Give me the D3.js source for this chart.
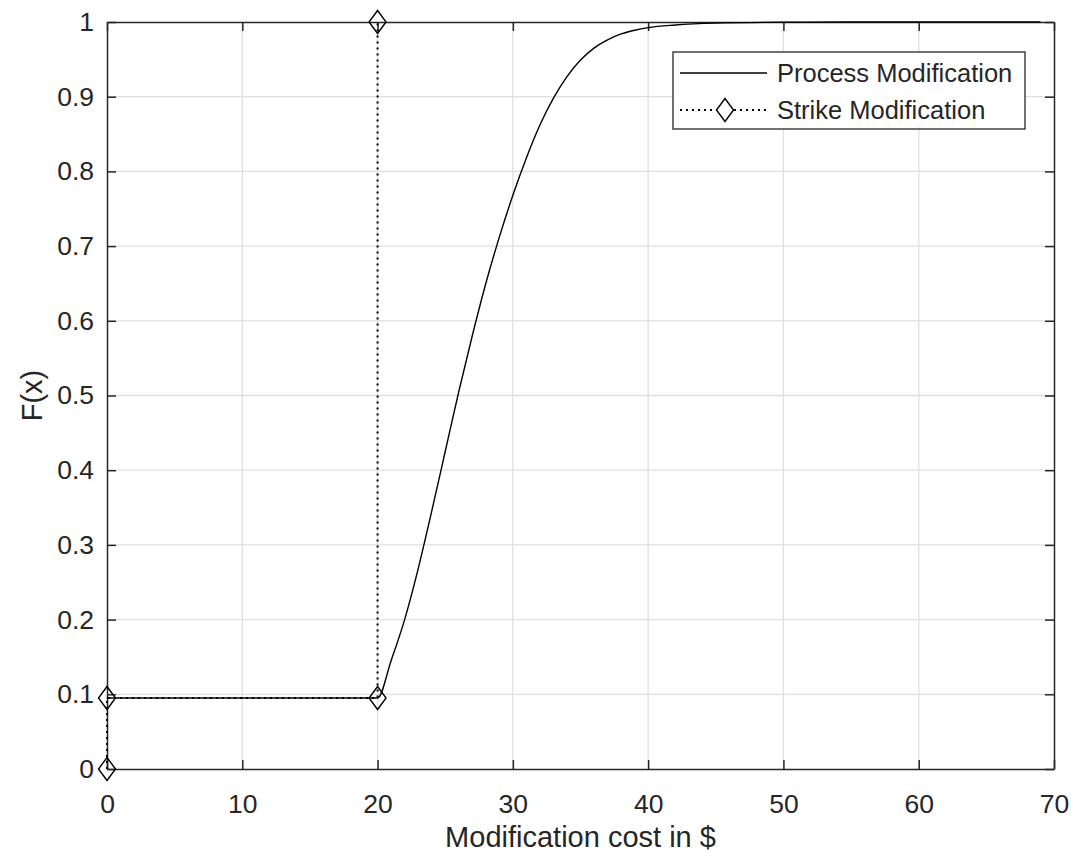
<!DOCTYPE html>
<html>
<head>
<meta charset="utf-8">
<script src="https://cdn.jsdelivr.net/npm/d3@7"></script>
<style>
  body { margin: 0; background: #fff; }
  svg text { font-family: "Liberation Sans", Arial, sans-serif; fill: #262626; }
</style>
</head>
<body>
<div id="chart"></div>
<script>
// process modification CDF
const processX = [0, 20, 21, 22, 23, 24, 25, 26, 27, 28, 29, 30, 31, 32, 33, 34, 35, 36, 37, 38, 39, 40, 42, 45, 50, 55, 69];
const processY = [0.095, 0.095, 0.145, 0.2, 0.268, 0.345, 0.425, 0.505, 0.58, 0.65, 0.712, 0.768, 0.818, 0.862, 0.898, 0.927, 0.949, 0.965, 0.976, 0.984, 0.989, 0.9925, 0.996, 0.9985, 0.9997, 1, 1];

// strike modification step
const strikeX = [0, 0, 20, 20];
const strikeY = [0, 0.095, 0.095, 1];

const xTicks = [0, 10, 20, 30, 40, 50, 60, 70];
const yTicks = [0, 0.1, 0.2, 0.3, 0.4, 0.5, 0.6, 0.7, 0.8, 0.9, 1];
const seriesNames = ["Process Modification", "Strike Modification"];

const W = 1075, H = 859;
const margin = {top: 22, right: 21, bottom: 90, left: 107};
const width = W - margin.left - margin.right;
const height = H - margin.top - margin.bottom;

const svg = d3.select("#chart").append("svg")
    .attr("width", W)
    .attr("height", H);

const g = svg.append("g")
    .attr("transform", `translate(${margin.left},${margin.top})`);

const x = d3.scaleLinear().domain([0, 70]).range([0, width]);
const y = d3.scaleLinear().domain([0, 1]).range([height, 0]);

// grid
g.append("g").selectAll("line").data(xTicks.slice(1, -1)).enter().append("line")
    .attr("x1", d => x(d)).attr("x2", d => x(d))
    .attr("y1", 0).attr("y2", height)
    .attr("stroke", "#dfdfdf").attr("stroke-width", 1.3);
g.append("g").selectAll("line").data(yTicks.slice(1, -1)).enter().append("line")
    .attr("y1", d => y(d)).attr("y2", d => y(d))
    .attr("x1", 0).attr("x2", width)
    .attr("stroke", "#dfdfdf").attr("stroke-width", 1.3);

// axes, ticks pointing inward
const tickLen = 9;
g.append("g")
    .attr("transform", `translate(0,${height})`)
    .call(d3.axisBottom(x).tickValues(xTicks).tickSizeInner(-tickLen).tickSizeOuter(0).tickPadding(25));
g.append("g")
    .call(d3.axisLeft(y).tickValues(yTicks).tickFormat(d3.format("~g")).tickSizeInner(-tickLen).tickSizeOuter(0).tickPadding(13));
g.append("g")
    .call(d3.axisTop(x).tickValues(xTicks).tickSizeInner(-tickLen).tickSizeOuter(0).tickFormat(""));
g.append("g")
    .attr("transform", `translate(${width},0)`)
    .call(d3.axisRight(y).tickValues(yTicks).tickSizeInner(-tickLen).tickSizeOuter(0).tickFormat(""));

g.selectAll(".domain").attr("stroke", "#262626").attr("stroke-width", 1.5);
g.selectAll(".tick line").attr("stroke", "#262626").attr("stroke-width", 1.5);
g.selectAll(".tick text").attr("font-size", 26.5).attr("fill", "#262626")
    .style("font-family", "'Liberation Sans', Arial, sans-serif");

// lines
const processData = processX.map((d, i) => [d, processY[i]]);
const strikeData = strikeX.map((d, i) => [d, strikeY[i]]);

const smooth = d3.line().x(d => x(d[0])).y(d => y(d[1])).curve(d3.curveMonotoneX);
const straight = d3.line().x(d => x(d[0])).y(d => y(d[1]));

g.append("path")
    .datum(processData)
    .attr("fill", "none")
    .attr("stroke", "#000")
    .attr("stroke-width", 1.4)
    .attr("d", smooth);

g.append("path")
    .datum(strikeData)
    .attr("fill", "none")
    .attr("stroke", "#000")
    .attr("stroke-width", 2)
    .attr("stroke-dasharray", "2,4")
    .attr("d", straight);

const diamond = (cx, cy) => `M${cx},${cy - 11.5}L${cx + 8.5},${cy}L${cx},${cy + 11.5}L${cx - 8.5},${cy}Z`;

g.selectAll(".marker").data(strikeData).enter().append("path")
    .attr("class", "marker")
    .attr("d", d => diamond(x(d[0]), y(d[1])))
    .attr("fill", "none")
    .attr("stroke", "#000")
    .attr("stroke-width", 1.4);

// axis labels
svg.append("text")
    .attr("x", margin.left + width / 2)
    .attr("y", 847)
    .attr("text-anchor", "middle")
    .attr("font-size", 29)
    .text("Modification cost in $");

svg.append("text")
    .attr("transform", `translate(42,${margin.top + height / 2}) rotate(-90)`)
    .attr("text-anchor", "middle")
    .attr("font-size", 29)
    .text("F(x)");

// legend
const lg = svg.append("g").attr("transform", "translate(673,52)");
lg.append("rect")
    .attr("width", 352).attr("height", 77)
    .attr("fill", "#fff")
    .attr("stroke", "#262626").attr("stroke-width", 1.3);
lg.append("line")
    .attr("x1", 7).attr("x2", 94).attr("y1", 21).attr("y2", 21)
    .attr("stroke", "#000").attr("stroke-width", 1.4);
lg.append("line")
    .attr("x1", 7).attr("x2", 94).attr("y1", 58).attr("y2", 58)
    .attr("stroke", "#000").attr("stroke-width", 2).attr("stroke-dasharray", "2,4");
lg.append("path")
    .attr("d", diamond(52, 58))
    .attr("fill", "#fff")
    .attr("stroke", "#000").attr("stroke-width", 1.4);
lg.selectAll(".lt").data(seriesNames).enter().append("text")
    .attr("class", "lt")
    .attr("x", 104)
    .attr("y", (d, i) => 21 + i * 37)
    .attr("dy", "0.35em")
    .attr("font-size", 25.5)
    .text(d => d);
</script>
</body>
</html>
